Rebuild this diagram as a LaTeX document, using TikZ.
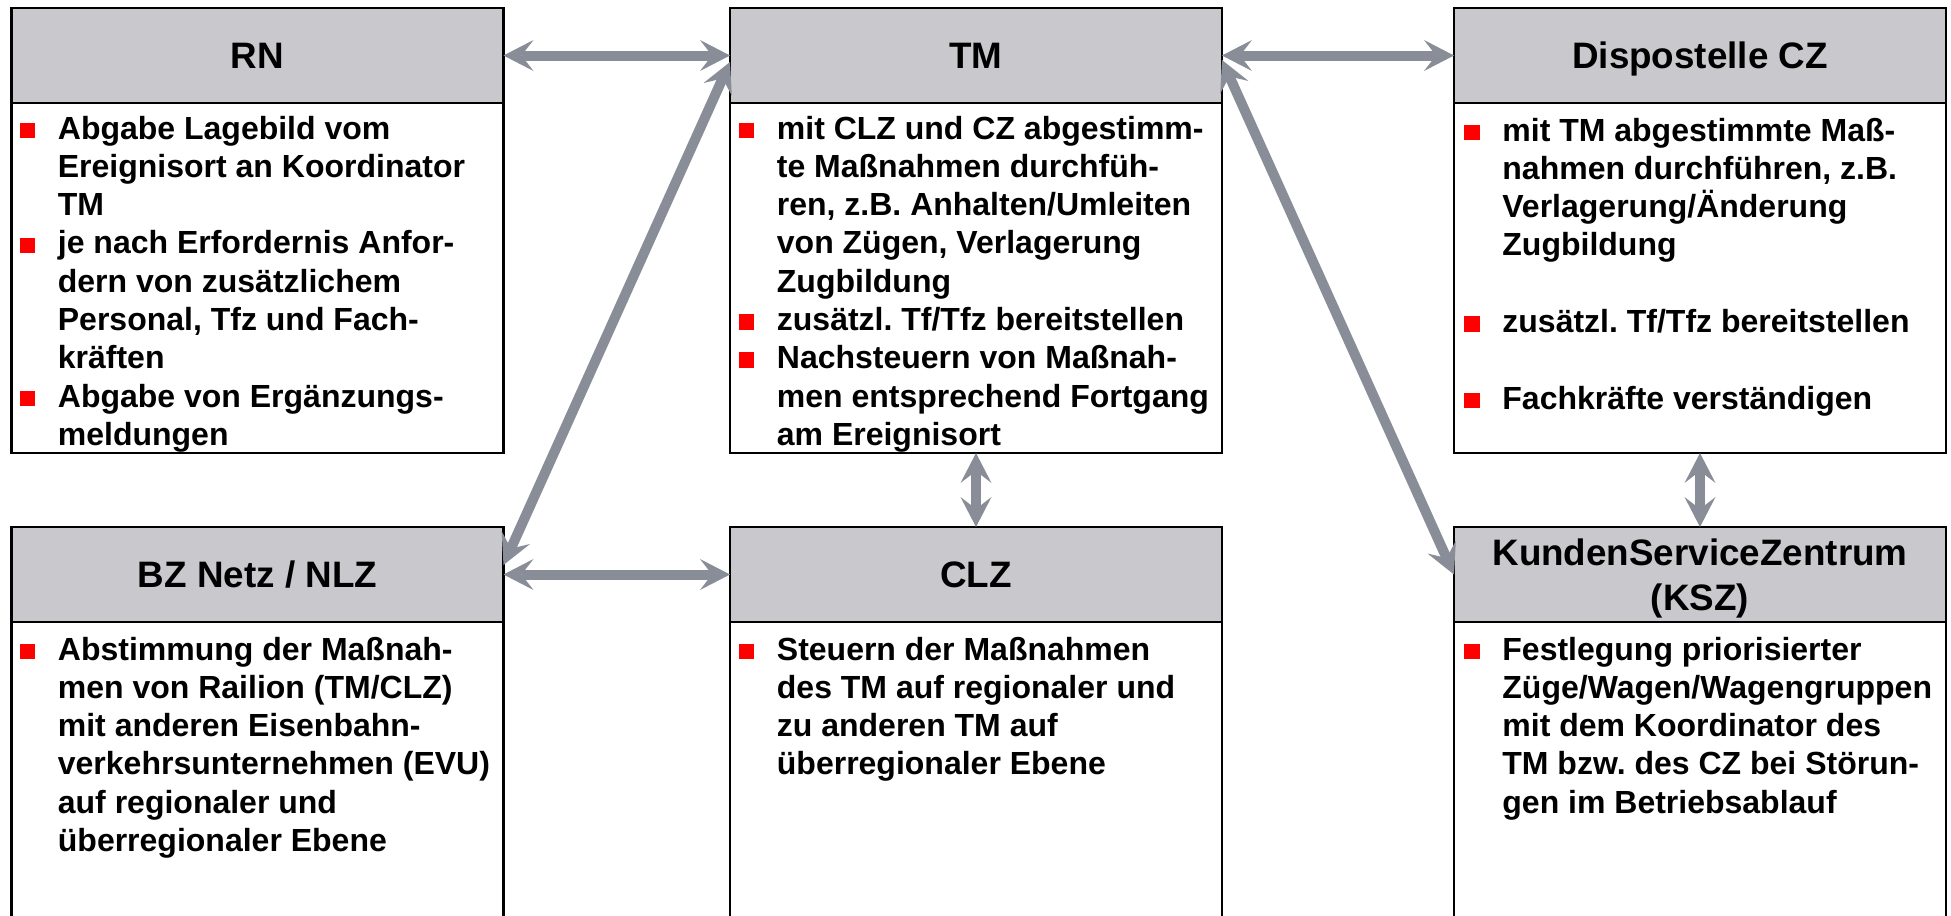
\documentclass[tikz,border=0pt]{standalone}
\usepackage{fontspec}
\setmainfont{Liberation Sans}
\usetikzlibrary{arrows.meta}
\definecolor{hdrgray}{RGB}{200,200,205}
\definecolor{arrowgray}{RGB}{136,141,152}
\definecolor{bred}{RGB}{255,0,0}
\newcommand{\bsq}{\leavevmode\llap{\textcolor{bred}{\rule[0.5pt]{7.7pt}{7.7pt}}\hspace{11.3pt}}}
\frenchspacing
\tikzset{
  bigtip/.tip={Stealth[length=15pt,width=15.5pt,inset=6pt,line width=0pt]},
  hdrbox/.style={draw=black, line width=1.3pt, fill=hdrgray, minimum width=246pt, minimum height=47.5pt, inner sep=0pt, outer sep=0pt, anchor=north west},
  bodybox/.style={draw=black, line width=1.3pt, fill=white, minimum width=246pt, inner sep=0pt, outer sep=0pt, anchor=north west},
  htext/.style={anchor=base, inner sep=0pt, font=\bfseries\fontsize{18.4}{22.5}\selectfont},
  btext/.style={anchor=base west, inner sep=0pt, font=\bfseries\fontsize{16}{19.15}\selectfont},
  conn/.style={draw=arrowgray, line width=5pt, arrows={bigtip-bigtip}},
}
\begin{document}
\begin{tikzpicture}[x=0.5pt,y=-0.5pt]
\useasboundingbox (0,0) rectangle (1951,916);
\fill[white] (0,0) rectangle (1951,916);
\clip (0,0) rectangle (1951,916);

% top row
\node[hdrbox] (rnh) at (11.5,8) {};
\node[bodybox, minimum height=175pt] (rnb) at (rnh.south west) {};
\node[hdrbox] (tmh) at (730,8) {};
\node[bodybox, minimum height=175pt] (tmb) at (tmh.south west) {};
\node[hdrbox] (dsh) at (1454,8) {};
\node[bodybox, minimum height=175pt] (dsb) at (dsh.south west) {};

% bottom row
\node[hdrbox] (bzh) at (11.5,527) {};
\node[bodybox, minimum height=170pt] (bzb) at (bzh.south west) {};
\node[hdrbox] (clh) at (730,527) {};
\node[bodybox, minimum height=170pt] (clb) at (clh.south west) {};
\node[hdrbox] (ksh) at (1454,527) {};
\node[bodybox, minimum height=170pt] (ksb) at (ksh.south west) {};

% header texts
\node[htext] (rnt) at ([yshift=-6.6pt]rnh.center) {RN};
\node[htext] (tmt) at ([yshift=-6.6pt]tmh.center) {TM};
\node[htext] (dst) at ([yshift=-6.6pt]dsh.center) {Dispostelle CZ};
\node[htext] (bzt) at ([yshift=-6.6pt]bzh.center) {BZ Netz / NLZ};
\node[htext] (clt) at ([yshift=-6.6pt]clh.center) {CLZ};
\node[htext] (kst) at ([yshift=4.75pt]ksh.center) {\parbox[t]{240pt}{\centering KundenServiceZentrum\\(KSZ)}};

% body texts
\node[btext] (rnx) at (57.5,139) {\parbox[t]{235pt}{%
\bsq Abgabe Lagebild vom\\
Ereignisort an Koordinator\\
TM\\
\bsq je nach Erfordernis Anfor-\\
dern von zusätzlichem\\
Personal, Tfz und Fach-\\
kräften\\
\bsq Abgabe von Ergänzungs-\\
meldungen}};

\node[btext] (tmx) at (776.5,139) {\parbox[t]{235pt}{%
\bsq mit CLZ und CZ abgestimm-\\
te Maßnahmen durchfüh-\\
ren, z.B. Anhalten/Umleiten\\
von Zügen, Verlagerung\\
Zugbildung\\
\bsq zusätzl. Tf/Tfz bereitstellen\\
\bsq Nachsteuern von Maßnah-\\
men entsprechend Fortgang\\
am Ereignisort}};

\node[btext] (dsx) at (1502,141) {\parbox[t]{235pt}{%
\bsq mit TM abgestimmte Maß-\\
nahmen durchführen, z.B.\\
Verlagerung/Änderung\\
Zugbildung\\[19.15pt]
\bsq zusätzl. Tf/Tfz bereitstellen\\[19.15pt]
\bsq Fachkräfte verständigen}};

\node[btext] (bzx) at (57.5,660) {\parbox[t]{235pt}{%
\bsq Abstimmung der Maßnah-\\
men von Railion (TM/CLZ)\\
mit anderen Eisenbahn-\\
verkehrsunternehmen (EVU)\\
auf regionaler und\\
überregionaler Ebene}};

\node[btext] (clx) at (776.5,660) {\parbox[t]{235pt}{%
\bsq Steuern der Maßnahmen\\
des TM auf regionaler und\\
zu anderen TM auf\\
überregionaler Ebene}};

\node[btext] (ksx) at (1502,660) {\parbox[t]{235pt}{%
\bsq Festlegung priorisierter\\
Züge/Wagen/Wagengruppen\\
mit dem Koordinator des\\
TM bzw. des CZ bei Störun-\\
gen im Betriebsablauf}};

% connectors
\draw[conn] (rnh.east) -- (tmh.west);
\draw[conn] (tmh.east) -- (dsh.west);
\draw[conn] (bzh.east) -- (clh.west);
\draw[conn] (tmb.south) -- (clh.north);
\draw[conn] (dsb.south) -- (ksh.north);
\draw[conn] ([yshift=4.75pt]bzh.east) -- ([yshift=-3.25pt]tmh.west);
\draw[conn] ([yshift=-2.25pt]tmh.east) -- (ksh.west);
\end{tikzpicture}
\end{document}
